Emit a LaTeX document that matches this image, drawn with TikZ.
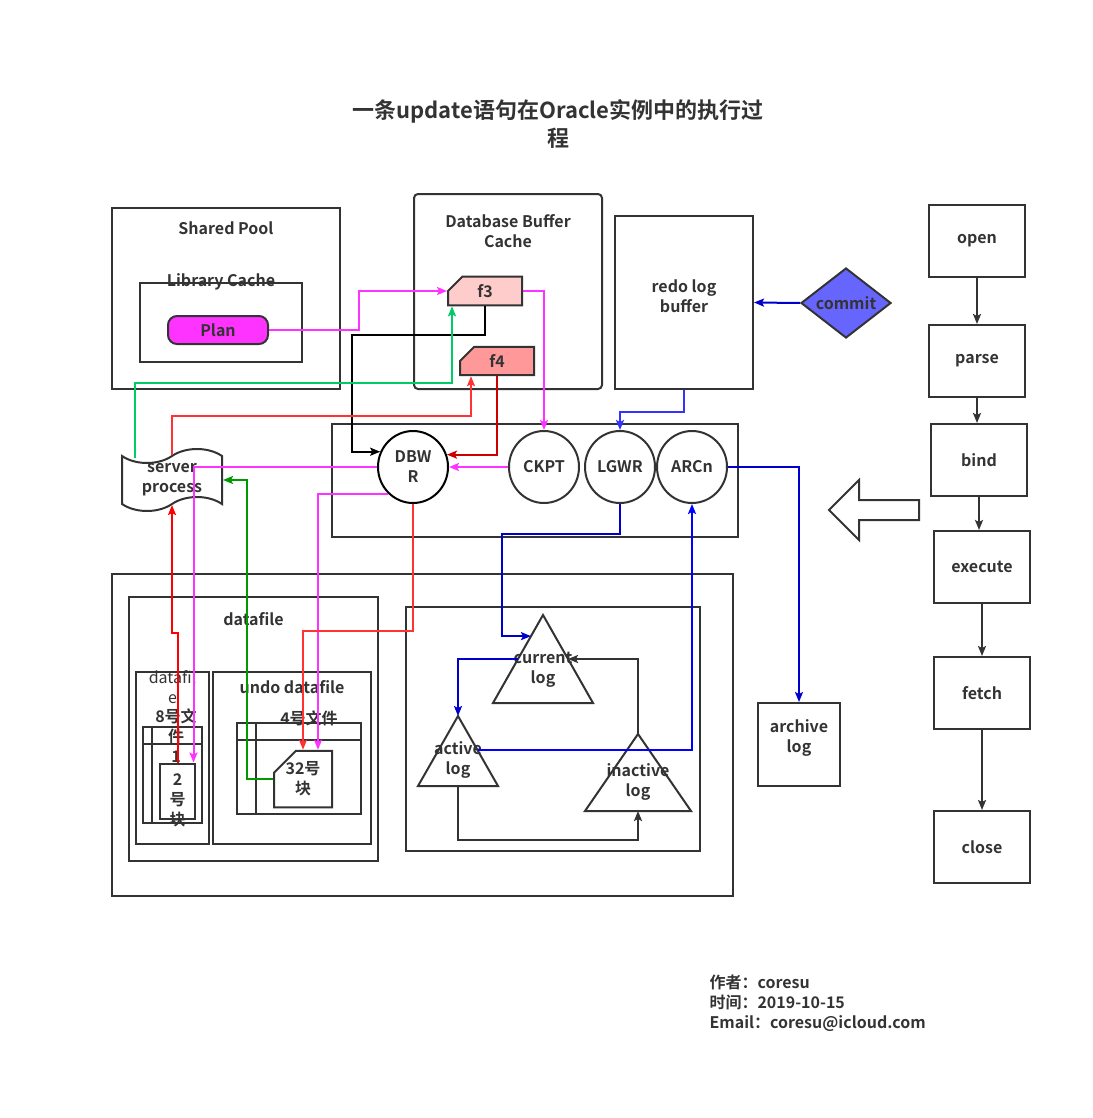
\documentclass[tikz,border=0pt]{standalone}
\usepackage{fontspec}
\setmainfont{Noto Sans CJK SC}[BoldFont={Noto Sans CJK SC Bold}]
\usetikzlibrary{arrows.meta,shapes.geometric,shapes.misc,shapes.symbols,fit,calc}

\definecolor{ink}{HTML}{333333}
\definecolor{pinkline}{HTML}{FF33FF}
\definecolor{f3fill}{HTML}{FFCCCC}
\definecolor{f4fill}{HTML}{FF9999}
\definecolor{commitfill}{HTML}{6666FF}
\definecolor{greenA}{HTML}{00CC66}
\definecolor{greenB}{HTML}{009900}
\definecolor{redA}{HTML}{FF3333}
\definecolor{redB}{HTML}{CC0000}
\definecolor{redC}{HTML}{FF0000}
\definecolor{blueA}{HTML}{3333FF}
\definecolor{blueB}{HTML}{0000CC}
\definecolor{blueC}{HTML}{0000FF}
\newcommand\lbl{\bfseries\fontsize{16}{20}\selectfont}

\begin{document}
\begin{tikzpicture}[x=1pt,y=-1pt,>={Stealth[length=10pt,width=8pt,inset=2pt]},
    every node/.style={text=ink,align=center,font=\lbl},
    box/.style={draw=ink,line width=2pt,inner sep=0pt},
    proc/.style={ellipse,draw=ink,line width=2pt,minimum width=70pt,
      minimum height=72pt,inner sep=0pt},
    blk/.style={chamfered rectangle,chamfered rectangle corners=north west,
      chamfered rectangle sep=11pt,draw=ink,line width=2pt,inner sep=0pt},
    step box/.style={box,minimum width=96pt,minimum height=72pt},
    tri/.style={draw=ink,line width=2pt,line join=miter},
    wire/.style={line width=2pt,->}]
  \useasboundingbox (0,0) rectangle (1092,1118);

  \node[font=\bfseries\fontsize{22}{28}\selectfont] (title) at (558,124)
    {一条update语句在Oracle实例中的执行过\\程};

  % SGA
  \node[box,fit={(112,208) (340,389)}] (pool) {};
  \node (pool title) at ([yshift=-21pt]pool.north) {Shared Pool};
  \node[box,fit={(140,283) (302,362)}] (libcache) {};
  \node (lib title) at (libcache.north) {Library Cache};
  \node[box,rounded corners=9pt,fill=pinkline,minimum width=100pt,
    minimum height=28pt] (plan) at (218,330) {Plan};
  \node[box,rounded corners=4pt,fit={(414,194) (602,389)}] (dbbc) {};
  \node (dbbc title) at ([yshift=-38pt]dbbc.north) {Database Buffer\\Cache};
  \node[blk,fill=f3fill,minimum width=74pt,minimum height=28pt] (f3) at (485,291) {f3};
  \node[blk,fill=f4fill,minimum width=74pt,minimum height=28pt] (f4) at (497,361) {f4};
  \node[box,fit={(615,216) (753,389)}] (redo) {redo log\\buffer};
  \node[diamond,draw=ink,line width=2pt,fill=commitfill,aspect=1.29,inner sep=0pt,
    minimum width=90pt,minimum height=70pt] (commit) at (846,303) {commit};

  % background processes
  \node[box,fit={(332,424) (738,537)}] (bgproc) {};
  \node[proc,draw=black] (dbwr) at (413,467) {DBW\\R};
  \node[proc] (ckpt) at (544,467) {CKPT};
  \node[proc] (lgwr) at (620,467) {LGWR};
  \node[proc] (arcn) at (692,467) {ARCn};
  \node[tape,draw=ink,line width=2pt,tape bend height=14pt,minimum width=100pt,
    minimum height=62pt,inner sep=0pt] (server) at (172,480) {server\\process};

  % files
  \node[box,fit={(112,574) (733,896)}] (disk) {};
  \node[box,fit={(129,597) (378,861)}] (datafile) {};
  \node (datafile title) at ([yshift=-23pt]datafile.north) {datafile};
  \node[box,fit={(136,672) (209,844)}] (sysfile) {};
  \node[font=\mdseries\fontsize{16}{20}\selectfont] (sysfile title)
    at ([yshift=-16pt]sysfile.north) {datafil\\e};
  \node[box,fit={(143,727) (202,823)}] (file8) {};
  \draw[box] ([xshift=10pt]file8.north west) -- ([xshift=10pt]file8.south west)
    ([yshift=-18pt]file8.north west) -- ([yshift=-18pt]file8.north east);
  \node (file8 title) at (176,726) {8号文\\件};
  \node (row1) at (176,757) {1};
  \node[blk,minimum width=35pt,minimum height=55pt] (blk2) at (177.5,791) {};
  \node (blk2 text) at (177.5,800) {2\\号\\块};
  \node[box,fit={(213,672) (371,844)}] (undo) {};
  \node (undo title) at ([yshift=-16pt]undo.north) {undo datafile};
  \node[box,fit={(237,723) (361,814)}] (file4) {};
  \draw[box] ([xshift=20pt]file4.north west) -- ([xshift=20pt]file4.south west)
    ([yshift=-18pt]file4.north west) -- ([yshift=-18pt]file4.north east);
  \node (file4 title) at (309,718) {4号文件};
  \node[blk,minimum width=58pt,minimum height=44pt] (blk32) at (303,779) {32号\\块};

  % redo log groups
  \node[box,fit={(406,607) (700,851)}] (logs) {};
  \foreach \n/\x/\y/\w/\h in {cur/543/615/50/88,act/458/716/40/70,ina/638/734/53/77}{
    \coordinate (\n-tip) at (\x,\y);
    \coordinate (\n-bl) at (\x-\w,\y+\h);
    \coordinate (\n-br) at (\x+\w,\y+\h);
    \coordinate (\n-bot) at (\x,\y+\h);
    \draw[tri] (\n-tip) -- (\n-bl) -- (\n-br) -- cycle;
  }
  \node (cur text) at (543,670) {current\\log};
  \node (act text) at (458,760) {active\\log};
  \node (ina text) at (638,782) {inactive\\log};
  \node[box,fit={(758,703) (840,786)}] (archive) {archive\\log};

  % cursor steps
  \foreach \n/\x/\y in {open/977/241,parse/977/361,bind/979/460,execute/982/567,
      fetch/982/693,close/982/847}
    \node[step box] (\n) at (\x,\y) {\n};
  \foreach \a/\b in {open/parse,parse/bind,bind/execute,execute/fetch,fetch/close}
    \draw[wire,ink] (\a.south) -- (\a.south |- \b.north);
  \draw[ink,line width=2pt,line join=miter] (829,510) -- (859,480) -- (859,500)
    -- (919,500) -- (919,520) -- (859,520) -- (859,540) -- cycle;

  % data flow
  \draw[wire,pinkline] (plan.east) -- ++(90,0) |- (f3.west);
  \draw[wire,pinkline] (f3.east) -| (ckpt.north);
  \draw[wire,black] (f3.south) |- (352,335) |- (dbwr.155);
  \draw[wire,greenA] ([xshift=14pt,yshift=-4pt]server.north west)
    |- ([xshift=-33pt,yshift=-77pt]f3.south) -- ([xshift=-33pt]f3.south);
  \draw[wire,redA] (server.north) |- ([xshift=-26pt,yshift=-40pt]f4.south)
    -- ([xshift=-26pt]f4.south);
  \draw[wire,redB] (f4.south) |- (dbwr.20);
  \draw[wire,pinkline] (ckpt.west) -- (dbwr.east);
  \draw[wire,pinkline] (dbwr.west) -| ([xshift=16pt]blk2.north);
  \draw[wire,pinkline] (dbwr.227) -| ([xshift=15pt]blk32.north);
  \draw[wire,redA] (dbwr.south) -- ++(0,127) -| (blk32.north);
  \draw[wire,redC] (blk2.north) -- ++(0,-130) -| (server.south);
  \draw[wire,greenB] (blk32.west) -- ++(-26,0) |- (server.east);
  \draw[wire,blueA] (redo.south) -- ++(0,22) -| (lgwr.north);
  \coordinate (cur-left) at ($(cur-tip)!0.24!(cur-bl)$);
  \coordinate (cur-lmid) at ($(cur-tip)!0.5!(cur-bl)$);
  \coordinate (cur-rmid) at ($(cur-tip)!0.5!(cur-br)$);
  \coordinate (act-right) at ($(act-tip)!0.49!(act-br)$);
  \draw[wire,blueB] (lgwr.south) -- ++(0,30) -| ([xshift=-29pt]cur-left) -- (cur-left);
  \draw[wire,blueB] (cur-lmid) -| (act-tip);
  \draw[wire,blueC] (act-right) -| (arcn.south);
  \draw[wire,ink] (ina-tip) |- (cur-rmid);
  \draw[wire,ink] (act-bot) -- ++(0,54) -| (ina-bot);
  \draw[wire,blueB] (arcn.east) -| (archive.north);
  \draw[wire,blueB] (commit.west) -- (redo.east);

  \node[anchor=west,align=left] (author) at (706,1003)
    {作者：coresu\\时间：2019-10-15\\Email：coresu@icloud.com};
\end{tikzpicture}
\end{document}
